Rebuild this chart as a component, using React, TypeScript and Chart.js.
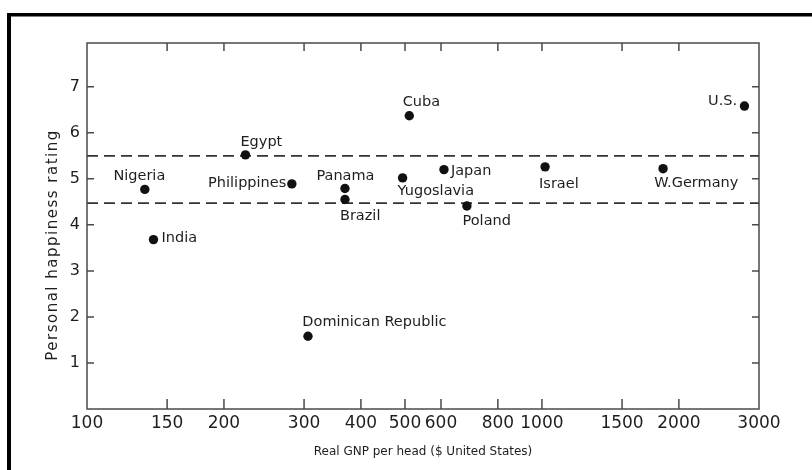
import React, { useEffect, useRef } from "react";
import { Chart, registerables } from "chart.js";

Chart.register(...registerables);

// ---- data ----
const countries = [
  "Nigeria", "India", "Egypt", "Philippines", "Panama", "Brazil",
  "Dominican Republic", "Cuba", "Yugoslavia", "Japan", "Poland",
  "Israel", "W.Germany", "U.S.",
];
const gnpPerHead = [134, 140, 223, 282, 369, 369, 306, 511, 494, 609, 684, 1016, 1846, 2787];
const happiness = [4.77, 3.68, 5.52, 4.89, 4.79, 4.55, 1.58, 6.37, 5.02, 5.2, 4.41, 5.26, 5.22, 6.58];
const bandUpper = 5.5;
const bandLower = 4.47;
const xTickValues = [100, 150, 200, 300, 400, 500, 600, 800, 1000, 1500, 2000, 3000];
const yTickValues = [1, 2, 3, 4, 5, 6, 7];
const xTitle = "Real GNP per head ($ United States)";
const yTitle = "Personal happiness rating";

// label placement relative to each dot (align, dx, dy in px)
const labelPlacement: [CanvasTextAlign, number, number][] = [
  ["center", -5.5, -13],
  ["left", 8, -1],
  ["left", -5, -13],
  ["right", -5.6, -0.6],
  ["center", 0.5, -12],
  ["left", -5, 17],
  ["left", -5.6, -14],
  ["left", -6.6, -14],
  ["left", -5, 13],
  ["left", 7, 1.7],
  ["left", -4.4, 15.7],
  ["left", -6, 17],
  ["left", -8.7, 14.7],
  ["right", -7.3, -4.7],
];

const FONT = "'DejaVu Sans', 'Liberation Sans', sans-serif";
const INK = "#1e1e1e";
const AXIS = "#4a4a4a";

const decorPlugin = {
  id: "decor",
  beforeDraw(chart: any) {
    const ctx = chart.ctx;
    ctx.save();
    ctx.fillStyle = "#ffffff";
    ctx.fillRect(0, 0, chart.width, chart.height);
    // scan frame (top + left)
    ctx.fillStyle = "#000000";
    ctx.fillRect(7, 13, 4, chart.height - 13);
    ctx.fillRect(7, 13, chart.width - 7, 3.5);
    ctx.restore();
  },
  afterDraw(chart: any) {
    const ctx = chart.ctx;
    const { left, right, top, bottom } = chart.chartArea;
    const xs = chart.scales.x;
    const ys = chart.scales.y;
    ctx.save();
    // axes box
    ctx.strokeStyle = AXIS;
    ctx.lineWidth = 1.5;
    ctx.strokeRect(left, top, right - left, bottom - top);
    // inward tick marks
    ctx.beginPath();
    xTickValues.forEach((v) => {
      if (v === xTickValues[0] || v === xTickValues[xTickValues.length - 1]) return;
      const px = xs.getPixelForValue(v);
      ctx.moveTo(px, bottom);
      ctx.lineTo(px, bottom - 10);
      ctx.moveTo(px, top);
      ctx.lineTo(px, top + 8);
    });
    yTickValues.forEach((v) => {
      const py = ys.getPixelForValue(v);
      ctx.moveTo(left, py);
      ctx.lineTo(left + 7, py);
      ctx.moveTo(right, py);
      ctx.lineTo(right - 7, py);
    });
    ctx.stroke();

    // point labels
    const meta = chart.getDatasetMeta(0);
    ctx.fillStyle = INK;
    ctx.font = `14.5px ${FONT}`;
    ctx.textBaseline = "middle";
    countries.forEach((name, i) => {
      const el = meta.data[i];
      const [align, dx, dy] = labelPlacement[i];
      ctx.textAlign = align;
      ctx.fillText(name, el.x + dx, el.y + dy);
    });

    // axis titles
    ctx.font = `12px ${FONT}`;
    ctx.textAlign = "center";
    ctx.fillText(xTitle, (left + right) / 2, 452);
    ctx.save();
    ctx.translate(53, 245);
    ctx.rotate(-Math.PI / 2);
    ctx.font = `15px ${FONT}`;
    (ctx as any).letterSpacing = "1.5px";
    ctx.fillText(yTitle, 0, 0);
    ctx.restore();
    ctx.restore();
  },
};

export default function App() {
  const canvasRef = useRef<HTMLCanvasElement | null>(null);

  useEffect(() => {
    if (!canvasRef.current) return;
    const points = countries.map((_, i) => ({ x: gnpPerHead[i], y: happiness[i] }));
    const xMin = xTickValues[0];
    const xMax = xTickValues[xTickValues.length - 1];
    const chart = new Chart(canvasRef.current, {
      type: "scatter",
      data: {
        datasets: [
          {
            data: points,
            backgroundColor: "#111111",
            borderWidth: 0,
            pointRadius: 4.7,
            showLine: false,
          },
          {
            data: [{ x: xMin, y: bandUpper }, { x: xMax, y: bandUpper }],
            showLine: true,
            borderColor: "#333333",
            borderWidth: 1.8,
            borderDash: [11, 6],
            pointRadius: 0,
          },
          {
            data: [{ x: xMin, y: bandLower }, { x: xMax, y: bandLower }],
            showLine: true,
            borderColor: "#333333",
            borderWidth: 1.8,
            borderDash: [11, 6],
            pointRadius: 0,
          },
        ],
      },
      options: {
        responsive: false,
        animation: false,
        layout: { padding: { left: 0, right: 53, top: 43, bottom: 0 } },
        plugins: { legend: { display: false }, tooltip: { enabled: false }, title: { display: false } },
        scales: {
          x: {
            type: "logarithmic",
            min: xMin,
            max: xMax,
            afterBuildTicks: (s: any) => {
              s.ticks = xTickValues.map((v) => ({ value: v }));
            },
            afterFit: (s: any) => {
              s.height = 61;
            },
            grid: { display: false, drawTicks: false },
            border: { display: false },
            ticks: {
              autoSkip: false,
              maxRotation: 0,
              padding: 4,
              color: INK,
              font: { family: FONT, size: 17 },
              callback: (v: any) => String(v),
            },
          },
          y: {
            type: "linear",
            min: 0,
            max: 7.95,
            afterBuildTicks: (s: any) => {
              s.ticks = yTickValues.map((v) => ({ value: v }));
            },
            afterFit: (s: any) => {
              s.width = 87;
            },
            grid: { display: false, drawTicks: false },
            border: { display: false },
            ticks: {
              padding: 7,
              color: INK,
              font: { family: FONT, size: 16 },
              callback: (v: any) => String(v),
            },
          },
        },
      },
      plugins: [decorPlugin],
    } as any);
    return () => chart.destroy();
  }, []);

  return (
    <div style={{ position: "fixed", left: 0, top: 0, width: 812, height: 470, background: "#fff" }}>
      <canvas ref={canvasRef} width={812} height={470} style={{ display: "block" }} />
    </div>
  );
}
